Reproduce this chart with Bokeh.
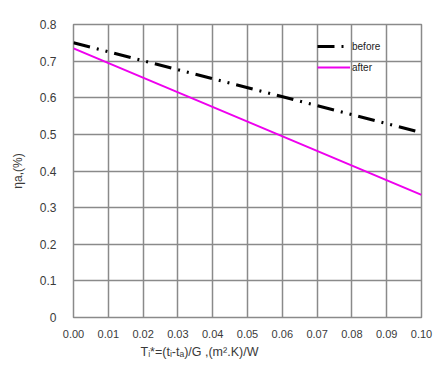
from bokeh.plotting import figure
from bokeh.models import Range1d, FixedTicker, Title, Legend, LegendItem
from bokeh.embed import file_html
from bokeh.resources import INLINE

# data
x_vals = [0.00, 0.10]
before_vals = [0.750, 0.505]
after_vals = [0.735, 0.335]
x_ticks = [0.00, 0.01, 0.02, 0.03, 0.04, 0.05, 0.06, 0.07, 0.08, 0.09, 0.10]
y_ticks = [0, 0.1, 0.2, 0.3, 0.4, 0.5, 0.6, 0.7, 0.8]
y_title = "ηa,(%)"
x_title = "Tᵢ*=(tᵢ-tₐ)/G ,(m².K)/W"

FONT = "Liberation Sans"
GRID = "#8a8a8a"

p = figure(width=445, height=376, output_backend="svg", toolbar_location=None,
           x_range=Range1d(0, 0.10), y_range=Range1d(0, 0.8),
           min_border_left=73, min_border_right=24, min_border_top=24, min_border_bottom=59)

p.background_fill_color = "white"
p.border_fill_color = "white"
p.outline_line_color = GRID
p.outline_line_width = 1.5

for ax in (p.xaxis, p.yaxis):
    ax.axis_line_color = None
    ax.major_tick_line_color = None
    ax.minor_tick_line_color = None
    ax.major_label_text_font = FONT
    ax.major_label_text_color = "#3a3a3a"

p.xaxis.major_label_text_font_size = "11px"
p.yaxis.major_label_text_font_size = "12px"
p.xaxis.ticker = FixedTicker(ticks=x_ticks)
p.yaxis.ticker = FixedTicker(ticks=y_ticks)
p.xaxis.major_label_overrides = {t: f"{t:.2f}" for t in x_ticks}
p.yaxis.major_label_overrides = {t: ("0" if t == 0 else f"{t:.1f}") for t in y_ticks}
p.xaxis.major_label_standoff = 6
p.yaxis.major_label_standoff = 11

p.xgrid.ticker = FixedTicker(ticks=x_ticks)
p.ygrid.ticker = FixedTicker(ticks=y_ticks)
for g in (p.xgrid, p.ygrid):
    g.grid_line_color = GRID
    g.grid_line_width = 1.5
    g.grid_line_alpha = 1

p.yaxis.axis_label = y_title
p.yaxis.axis_label_text_font = FONT
p.yaxis.axis_label_text_font_style = "normal"
p.yaxis.axis_label_text_font_size = "12px"
p.yaxis.axis_label_text_color = "#3a3a3a"
p.yaxis.axis_label_standoff = 12

r_before = p.line(x_vals, before_vals, line_color="black", line_width=3,
                  line_dash="17 7 2 7 2 7")
r_after = p.line(x_vals, after_vals, line_color="#ee00ee", line_width=2)

legend = Legend(items=[LegendItem(label="before", renderers=[r_before]),
                       LegendItem(label="after", renderers=[r_after])],
                location=(244, 240), orientation="vertical")
legend.background_fill_alpha = 0
legend.border_line_color = None
legend.padding = 0
legend.margin = 0
legend.spacing = 1
legend.glyph_width = 33
legend.glyph_height = 20
legend.label_standoff = 2
legend.label_text_font = FONT
legend.label_text_font_size = "10px"
legend.label_text_color = "#222222"
p.add_layout(legend)

xt = Title(text=x_title, align="left", offset=67, text_font=FONT,
           text_font_size="12.5px", text_font_style="normal",
           text_color="#3a3a3a", standoff=4)
p.add_layout(xt, "below")

open("out.html", "w").write(file_html(p, INLINE))
